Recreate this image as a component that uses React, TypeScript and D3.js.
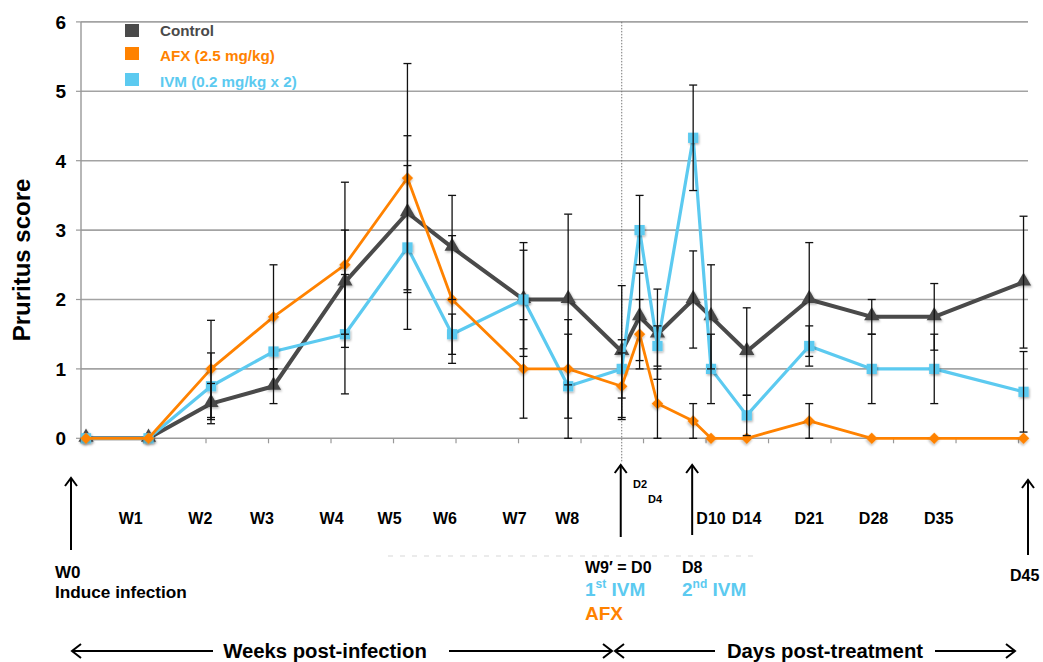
import React from "react";
import * as d3 from "d3";

// sampling days (weeks post-infection, then days post-treatment)
const days = [0, 7, 14, 21, 29, 36, 41, 49, 54, 60, 62, 64, 68, 70, 74, 81, 88, 95, 105];

const controlMean = [0, 0, 0.5, 0.75, 2.25, 3.25, 2.75, 2, 2, 1.25, 1.75, 1.5, 2, 1.75, 1.25, 2, 1.75, 1.75, 2.25];
const controlErr = [0, 0, 0.29, 0.25, 0.75, 1.11, 0.75, 0.82, 1.23, 0.95, 0.63, 0.65, 0.7, 0.75, 0.63, 0.82, 0.25, 0.48, 0.95];

const afxMean = [0, 0, 1, 1.75, 2.5, 3.75, 2, 1, 1, 0.75, 1.5, 0.5, 0.25, 0, 0, 0.25, 0, 0, 0];
const afxErr = [0, 0, 0.7, 0.75, 1.19, 1.65, 0.92, 0.71, 0.71, 0.48, 0.5, 0.5, 0.25, 0, 0, 0.25, 0, 0, 0];

const ivmMean = [0, 0, 0.75, 1.25, 1.5, 2.75, 1.5, 2, 0.75, 1, 3, 1.33, 4.33, 1, 0.33, 1.33, 1, 1, 0.67];
const ivmErr = [0, 0, 0.48, 0, 0.86, 1.18, 0.29, 0.71, 0.75, 0.42, 0.5, 0.29, 0.76, 0.5, 0.29, 0.29, 0.5, 0.5, 0.58];

const yTicks = [0, 1, 2, 3, 4, 5, 6];

// time-point labels under the axis, anchored in day units
const timeLabels = ["W1", "W2", "W3", "W4", "W5", "W6", "W7", "W8", "D10", "D14", "D21", "D28", "D35"];
const timeLabelDays = [5.0, 12.8, 19.7, 27.5, 34.0, 40.2, 48.0, 53.9, 70.0, 74.0, 81.0, 88.2, 95.5];

const seriesNames = ["Control", "AFX (2.5 mg/kg)", "IVM (0.2 mg/kg x 2)"];

const GREY = "#4a4a4a";
const ORANGE = "#ff8200";
const BLUE = "#5ccaf0";
const FONT = "'Liberation Sans', Arial, sans-serif";

const W = 1043;
const H = 662;

export default function App() {
  const x = d3.scaleLinear().domain([-0.56, 105.5]).range([81, 1028]);
  const y = d3.scaleLinear().domain([0, 6]).range([438.3, 21.9]);

  const xTicks = d3.range(0, 16).map((k) => -0.56 + 7 * k);

  const line = d3
    .line<number>()
    .x((_, i) => x(days[i]))
    .y((d) => y(d));

  const tri = d3.symbol().type(d3.symbolTriangle).size(100)()!;
  const sq = d3.symbol().type(d3.symbolSquare).size(105)()!;
  const dia = d3.symbol().type(d3.symbolSquare).size(66)()!;

  const series = [
    { mean: controlMean, err: controlErr, color: GREY, width: 4, path: tri, rot: 0 },
    { mean: ivmMean, err: ivmErr, color: BLUE, width: 3.2, path: sq, rot: 0 },
    { mean: afxMean, err: afxErr, color: ORANGE, width: 2.8, path: dia, rot: 45 },
  ];

  const upArrow = (px: number, y1: number, y2: number) => (
    <g stroke="#000" strokeWidth={2} fill="none">
      <line x1={px} x2={px} y1={y1} y2={y2} />
      <polyline points={`${px - 6},${y2 + 8} ${px},${y2} ${px + 6},${y2 + 8}`} />
    </g>
  );

  const hArrow = (x1: number, x2: number, yy: number, dir: number) => {
    const tip = dir < 0 ? x1 : x2;
    return (
      <g stroke="#000" strokeWidth={2} fill="none">
        <line x1={x1} x2={x2} y1={yy} y2={yy} />
        <polyline points={`${tip - dir * 9},${yy - 7} ${tip},${yy} ${tip - dir * 9},${yy + 7}`} />
      </g>
    );
  };

  return (
    <svg
      width={W}
      height={H}
      viewBox={`0 0 ${W} ${H}`}
      style={{ position: "absolute", left: 0, top: 0, background: "#fff" }}
      fontFamily={FONT}
    >
      <defs>
        <filter id="sh" x="-50%" y="-50%" width="200%" height="200%">
          <feDropShadow dx="1" dy="1.5" stdDeviation="1" floodColor="#000" floodOpacity="0.3" />
        </filter>
      </defs>

      {/* gridlines */}
      {yTicks.slice(1).map((t) => (
        <line key={t} x1={x.range()[0]} x2={x.range()[1]} y1={y(t)} y2={y(t)} stroke="#a3a3a3" strokeWidth={1.6} />
      ))}

      {/* axes */}
      <line x1={81} x2={81} y1={y(6)} y2={y(0)} stroke="#999" strokeWidth={1.4} />
      {yTicks.map((t) => (
        <g key={t}>
          <line x1={76} x2={81} y1={y(t)} y2={y(t)} stroke="#999" strokeWidth={1.2} />
          <text x={66} y={y(t)} dy="0.36em" textAnchor="end" fontSize={19} fontWeight="bold">
            {t}
          </text>
        </g>
      ))}
      <line x1={x.range()[0]} x2={x.range()[1]} y1={y(0)} y2={y(0)} stroke="#999" strokeWidth={1.4} />
      {xTicks.map((t, i) => (
        <line key={i} x1={x(t)} x2={x(t)} y1={y(0)} y2={y(0) + 5} stroke="#999" strokeWidth={1.2} />
      ))}

      {/* treatment day divider */}
      <line x1={x(60)} x2={x(60)} y1={y(6)} y2={463} stroke="#777" strokeWidth={1} strokeDasharray="1.5,1.5" />

      {/* y title */}
      <text transform={`translate(30,260) rotate(-90)`} textAnchor="middle" fontSize={24} fontWeight="bold">
        Pruritus score
      </text>

      {/* series lines and markers */}
      {series.map((s, si) => (
        <g key={si}>
          <path d={line(s.mean)!} fill="none" stroke={s.color} strokeWidth={s.width} strokeLinejoin="round" />
          {s.mean.map((v, i) => (
            <path
              key={i}
              d={s.path}
              transform={`translate(${x(days[i])},${y(v) + (s.path === tri ? -1 : 0)}) rotate(${s.rot})`}
              fill={s.color}
              filter="url(#sh)"
            />
          ))}
        </g>
      ))}

      {/* error bars */}
      {series.map((s, si) =>
        s.mean.map((v, i) =>
          s.err[i] > 0 ? (
            <g key={`${si}-${i}`} stroke="#111" strokeWidth={1.3}>
              <line x1={x(days[i])} x2={x(days[i])} y1={y(v + s.err[i])} y2={y(Math.max(0, v - s.err[i]))} />
              <line x1={x(days[i]) - 4} x2={x(days[i]) + 4} y1={y(v + s.err[i])} y2={y(v + s.err[i])} />
              <line
                x1={x(days[i]) - 4}
                x2={x(days[i]) + 4}
                y1={y(Math.max(0, v - s.err[i]))}
                y2={y(Math.max(0, v - s.err[i]))}
              />
            </g>
          ) : null
        )
      )}

      {/* legend */}
      {[GREY, ORANGE, BLUE].map((c, i) => (
        <g key={i}>
          <rect x={125} y={[24, 47, 73][i]} width={14} height={13} fill={c} />
          <text x={160} y={[31, 56, 82][i]} dy="0.36em" fontSize={15.2} fontWeight="bold" fill={c}>
            {seriesNames[i]}
          </text>
        </g>
      ))}

      {/* time-point labels */}
      {timeLabels.map((l, i) => (
        <text key={l} x={x(timeLabelDays[i])} y={518} dy="0.36em" textAnchor="middle" fontSize={16} fontWeight="bold">
          {l}
        </text>
      ))}
      <text x={633} y={484} dy="0.36em" fontSize={11} fontWeight="bold">D2</text>
      <text x={648} y={499} dy="0.36em" fontSize={11} fontWeight="bold">D4</text>

      {/* faint hidden-text remnant */}
      <line x1={388} x2={758} y1={556} y2={556} stroke="#d8d8d8" strokeWidth={1.2} strokeDasharray="5,7" />

      {/* event arrows */}
      {upArrow(71, 550, 478)}
      {upArrow(x(60) - 1, 537, 465)}
      {upArrow(x(68) - 1, 535, 465)}
      {upArrow(1028, 555, 480)}

      <g fontSize={16} fontWeight="bold">
        <text x={55} y={572} dy="0.36em" fontSize={17}>W0</text>
        <text x={55} y={592} dy="0.36em" fontSize={17.2}>Induce infection</text>
        <text x={585} y={567} dy="0.36em">W9′ = D0</text>
        <text x={585} y={596} fill={BLUE} fontSize={19}>
          1<tspan fontSize={12} dy={-8}>st</tspan>
          <tspan dy={8}> IVM</tspan>
        </text>
        <text x={585} y={613} dy="0.36em" fill={ORANGE} fontSize={19}>AFX</text>
        <text x={682} y={567} dy="0.36em">D8</text>
        <text x={682} y={596} fill={BLUE} fontSize={19}>
          2<tspan fontSize={12} dy={-8}>nd</tspan>
          <tspan dy={8}> IVM</tspan>
        </text>
        <text x={1010} y={575} dy="0.36em">D45</text>
      </g>

      {/* period arrows */}
      {hArrow(72, 213, 651, -1)}
      {hArrow(449, 612, 651, 1)}
      {hArrow(615, 715, 651, -1)}
      {hArrow(935, 1015, 651, 1)}
      <text x={325} y={651} dy="0.36em" textAnchor="middle" fontSize={20.3} fontWeight="bold">
        Weeks post-infection
      </text>
      <text x={825} y={651} dy="0.36em" textAnchor="middle" fontSize={20.3} fontWeight="bold">
        Days post-treatment
      </text>
    </svg>
  );
}
